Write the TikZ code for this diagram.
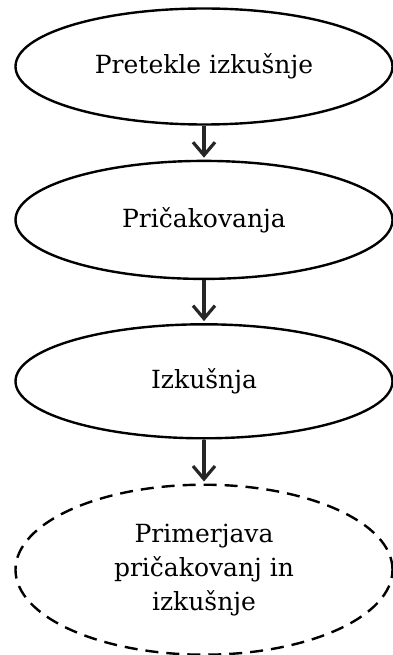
\documentclass[tikz,border=0pt]{standalone}
\usepackage{fontspec}
\setmainfont{DejaVu Serif}
\usetikzlibrary{positioning,shapes.geometric,arrows.meta}

\begin{document}
\begin{tikzpicture}[
        x=1pt, y=1pt,
        every node/.style={font=\fontsize{25}{34}\selectfont, align=center},
        phase/.style={ellipse, draw=black, line width=2.4pt, minimum width=377pt, minimum height=116pt, inner sep=0pt},
        compare/.style={phase, dash pattern=on 13pt off 8pt, minimum height=170pt},
        arr/.style={-{Straight Barb[length=13pt, width=22pt, line width=3.2pt]}, line width=3.2pt, draw=black!85, shorten >=2pt}
      ]
        \useasboundingbox (0,0) rectangle (393,-655);
        \node[phase] (past) at (204,-66.5) {Pretekle izkušnje};
        \node[phase, below=34pt of past, minimum height=118pt] (expect) {Pričakovanja};
        \node[phase, below=43pt of expect, minimum height=114pt] (exper) {Izkušnja};
        \node[compare, below=44pt of exper] (cmp) {Primerjava\\pričakovanj in\\izkušnje};
        \draw[arr] (past.south) -- (expect.north);
        \draw[arr] (expect.south) -- (exper.north);
        \draw[arr] (exper.south) -- (cmp.north);
      \end{tikzpicture}
\end{document}
